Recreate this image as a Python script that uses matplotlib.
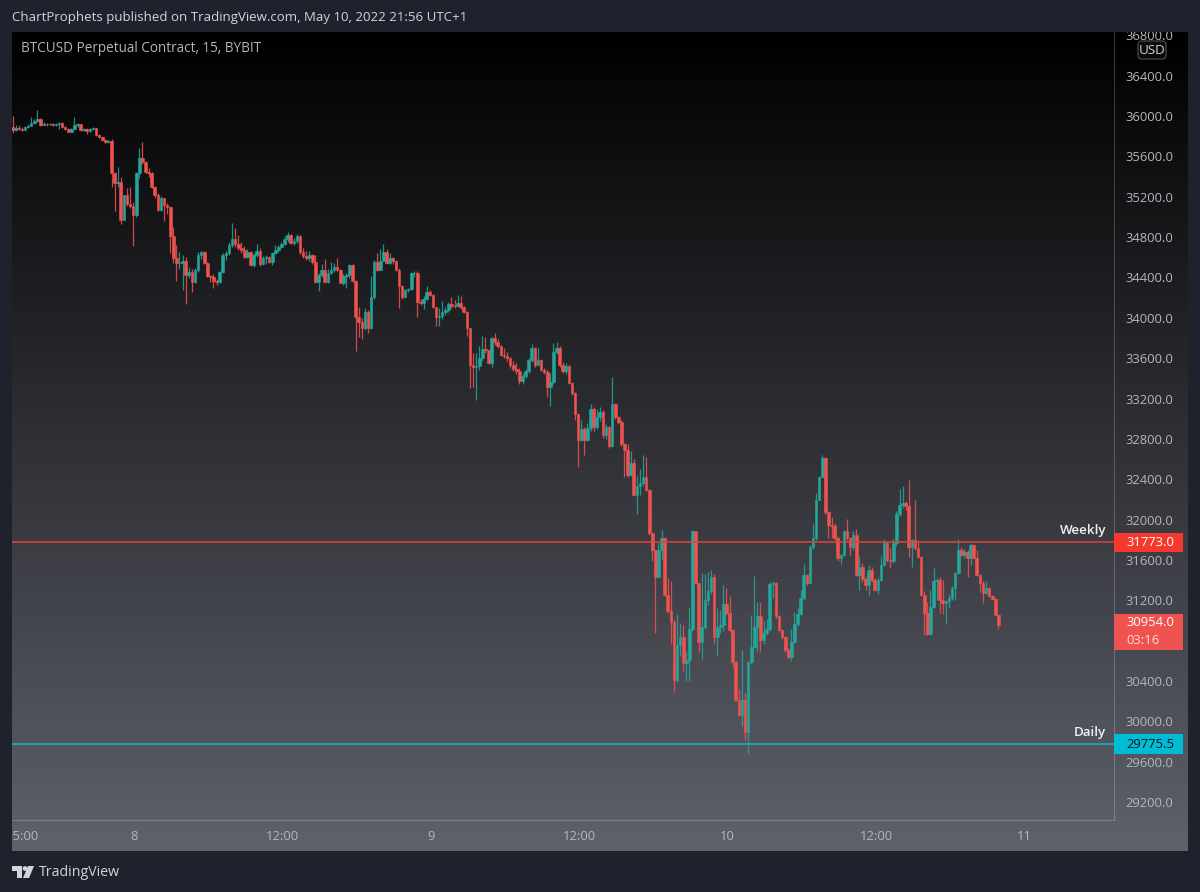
import matplotlib
matplotlib.use('Agg')
import matplotlib.pyplot as plt
import numpy as np
from matplotlib.colors import LinearSegmentedColormap
from matplotlib.patches import Rectangle, Polygon, Circle, FancyBboxPatch

plt.rcParams['font.family'] = ['Open Sans', 'DejaVu Sans']

# 15 minute candles
first_open = 35890
closes = [
    35860,35880,35875,35865,35890,35905,35935,35950,35965,35915,
    35925,35920,35925,35915,35925,35935,35895,35875,35845,35870,
    35910,35920,35860,35870,35850,35875,35880,35815,35790,35765,
    35740,35750,35430,35335,35350,34965,35215,35130,35110,35020,
    35430,35580,35540,35440,35430,35300,35218,35070,35185,35120,
    35100,34810,34590,34540,34540,34560,34425,34450,34350,34475,
    34620,34650,34540,34410,34400,34360,34350,34450,34620,34640,
    34725,34780,34730,34690,34670,34600,34650,34520,34620,34660,
    34530,34590,34600,34550,34640,34670,34700,34730,34780,34820,
    34740,34760,34810,34650,34610,34590,34620,34550,34350,34420,
    34470,34350,34440,34470,34500,34470,34345,34410,34420,34520,
    34360,34010,33960,33900,34060,33900,34210,34555,34475,34560,
    34655,34540,34590,34560,34475,34310,34210,34275,34290,34440,
    34445,34160,34150,34190,34260,34230,34105,34010,34020,34060,
    34075,34140,34120,34115,34150,34105,34060,33895,33530,33510,
    33520,33600,33690,33680,33550,33800,33760,33720,33630,33620,
    33600,33530,33490,33470,33370,33420,33470,33580,33700,33530,
    33580,33480,33465,33310,33365,33660,33700,33530,33470,33520,
    33350,33250,33050,32790,32900,32790,32910,33100,32920,33020,
    33070,32840,32920,32725,33150,33020,32970,32750,32690,32440,
    32560,32245,32330,32360,32425,32295,31865,31700,31435,31700,
    31815,31250,31090,30990,30410,30760,30840,30580,30610,30920,
    31890,31370,30790,30940,31200,31290,31430,30840,30940,30960,
    31160,31070,30905,30590,30210,30060,30210,29900,30590,30740,
    30940,31040,30810,30880,30920,31360,31370,31040,30905,30840,
    30710,30640,30790,30970,31060,31220,31450,31370,31730,31815,
    32195,32425,32610,32080,31950,31940,31815,31615,31650,31890,
    31815,31730,31845,31450,31530,31415,31350,31500,31400,31305,
    31400,31550,31770,31600,31590,31770,32060,32145,32160,32130,
    31730,31800,31720,31630,31250,31070,30870,31130,31390,31400,
    31200,31170,31190,31220,31320,31470,31700,31650,31680,31620,
    31750,31620,31450,31370,31270,31320,31240,31210,31055,30954,
]
highs = [
    36000,35910,35910,35890,35905,35920,35985,35970,36060,35975,
    35940,35935,35935,35935,35930,35940,35940,35900,35880,35880,
    35990,35930,35925,35880,35885,35885,35890,35885,35820,35795,
    35770,35765,35770,35440,35490,35400,35220,35290,35300,35150,
    35440,35680,35745,35550,35480,35445,35310,35240,35210,35190,
    35135,35110,34900,34720,34650,34620,34600,34500,34480,34490,
    34650,34660,34660,34550,34420,34430,34380,34460,34640,34660,
    34750,34935,34890,34820,34750,34710,34680,34660,34640,34730,
    34690,34610,34620,34610,34650,34720,34720,34750,34810,34850,
    34830,34790,34830,34825,34690,34660,34660,34630,34620,34440,
    34530,34580,34480,34550,34545,34590,34480,34430,34440,34530,
    34530,34370,34110,34000,34100,34080,34415,34570,34640,34680,
    34730,34680,34640,34600,34570,34490,34320,34290,34300,34450,
    34460,34460,34190,34220,34310,34275,34240,34110,34100,34170,
    34110,34160,34210,34180,34230,34220,34115,34065,33900,33650,
    33650,33720,33820,33810,33680,33810,33850,33790,33730,33700,
    33665,33610,33570,33550,33500,33450,33490,33600,33740,33710,
    33700,33590,33500,33480,33450,33750,33760,33720,33560,33555,
    33530,33360,33260,33060,32990,32920,32960,33150,33120,33100,
    33120,33090,32950,32930,33410,33160,33030,32985,32760,32750,
    32680,32600,32430,32500,32640,32620,32300,31870,31700,31770,
    31900,31830,31420,31390,31010,31060,30980,30960,30700,31120,
    31900,31830,31370,31470,31460,31480,31500,31460,31120,31100,
    31350,31320,31240,30920,30600,30320,30710,30280,30600,31050,
    31440,31180,31180,31000,31010,31380,31390,31380,31050,30920,
    30850,30730,30920,31080,31120,31300,31560,31460,31750,31960,
    32260,32430,32640,32620,32090,32030,31965,31840,31660,31900,
    32010,31830,31890,31910,31640,31570,31430,31550,31530,31420,
    31430,31640,31810,31780,31720,31810,32090,32300,32330,32180,
    32390,31810,32190,31800,31640,31290,31180,31300,31520,31420,
    31430,31400,31200,31260,31340,31480,31810,31730,31710,31700,
    31770,31760,31700,31460,31390,31390,31330,31250,31220,31060,
]
lows = [
    35830,35850,35860,35855,35860,35880,35900,35920,35940,35905,
    35915,35905,35910,35900,35905,35870,35885,35865,35840,35850,
    35870,35890,35850,35850,35825,35840,35860,35805,35785,35750,
    35735,35730,35300,35063,35300,34930,34970,35110,35090,34716,
    35000,35390,35520,35430,35400,35290,35190,35060,35060,34955,
    35030,34640,34540,34360,34480,34280,34140,34390,34260,34340,
    34450,34580,34530,34400,34350,34300,34320,34340,34440,34570,
    34620,34700,34700,34670,34640,34590,34590,34510,34500,34600,
    34510,34520,34530,34540,34520,34630,34650,34690,34720,34750,
    34730,34720,34740,34630,34590,34570,34560,34530,34340,34270,
    34400,34340,34340,34430,34450,34460,34340,34320,34300,34390,
    34350,33670,33810,33790,33880,33850,33890,34190,34460,34470,
    34560,34530,34530,34530,34460,34100,34190,34200,34255,34280,
    34400,34010,34130,34090,34180,34220,34100,33920,33920,33990,
    34030,34060,34100,34100,34110,34090,34050,33820,33300,33310,
    33190,33480,33570,33650,33540,33510,33730,33700,33620,33600,
    33570,33500,33470,33440,33340,33340,33400,33450,33560,33510,
    33540,33470,33440,33210,33130,33340,33640,33510,33450,33440,
    33340,33230,32990,32520,32780,32640,32780,32880,32880,32900,
    32980,32810,32800,32710,32720,33000,32950,32730,32420,32420,
    32430,32230,32060,32240,32330,32280,31850,31590,30880,31430,
    31600,31240,31070,30770,30290,30390,30650,30500,30400,30400,
    30900,31360,30690,30620,30920,31150,31260,30770,30650,30880,
    30900,31050,30890,30540,30200,30050,29950,29820,29680,30570,
    30730,30690,30690,30770,30860,30900,31220,31020,30890,30820,
    30690,30620,30600,30780,30950,31050,31200,31350,31360,31710,
    31800,32190,32420,32060,31820,31820,31800,31590,31560,31640,
    31800,31650,31700,31440,31300,31380,31300,31240,31380,31290,
    31260,31390,31540,31580,31520,31570,31740,32040,32110,32100,
    31630,31530,31700,31620,31240,30860,30860,30860,31120,31200,
    31070,31060,30970,31120,31200,31200,31460,31640,31620,31430,
    31550,31610,31440,31280,31170,31260,31230,31200,31050,30915,
]

price_ticks = [36800,36400,36000,35600,35200,34800,34400,34000,33600,33200,32800,
               32400,32000,31600,31200,30400,30000,29600,29200]
# candle index of each time label
time_pos = [3.3,39.3,87.4,135.4,183.4,231.4,279.4,327.4]
time_labels = ['15:00','8','12:00','9','12:00','10','12:00','11']

weekly_level = 31773.0
daily_level = 29775.5
last_price = 30954.0

UP = '#26a69a'
DOWN = '#ef5350'
DARK = '#1e222d'
W, H = 1200, 892

def px_axes(x0, y0, x1, y1, **kw):
    # axes from image pixels, y going down
    return fig.add_axes([x0/W, 1-y1/H, (x1-x0)/W, (y1-y0)/H], **kw)

fig = plt.figure(figsize=(12, 8.92), dpi=100, facecolor=DARK)

# pane gradient
bg = px_axes(12, 32, 1188, 851, zorder=0)
cmap = LinearSegmentedColormap.from_list('pane', ['#000000', '#5f616b'])
bg.imshow(np.linspace(0, 1, 256).reshape(-1, 1), aspect='auto', cmap=cmap)
bg.axis('off')

ax = px_axes(12, 32, 1114, 820, zorder=1)
ax.patch.set_alpha(0)
ax.set_xlim(-0.2, 356.4)
ax.set_ylim(29023, 36832)

# candles
closes = np.array(closes)
opens = np.r_[first_open, closes[:-1]]
idx = np.arange(len(closes))
colors = [UP if c >= o else DOWN for o, c in zip(opens, closes)]
ax.vlines(idx, lows, highs, colors=colors, lw=0.9, alpha=0.85, zorder=2)
ax.bar(idx, closes-opens, bottom=opens, width=0.85, color=colors, edgecolor=colors, lw=0.4, zorder=3)

# levels
ax.axhline(weekly_level, color='#d8483e', lw=1.1, zorder=4)
ax.axhline(daily_level, color='#1ba3b8', lw=1.4, zorder=4)
ax.text(1094/1102, weekly_level+118, 'Weekly', transform=ax.get_yaxis_transform(),
        ha='right', va='center', color='#f0f0f2', fontsize=9.6, fontweight='semibold', zorder=5)
ax.text(1094/1102, daily_level+110, 'Daily', transform=ax.get_yaxis_transform(),
        ha='right', va='center', color='#f0f0f2', fontsize=9.6, fontweight='semibold', zorder=5)

# axes
for s in ['left', 'top']:
    ax.spines[s].set_visible(False)
for s in ['right', 'bottom']:
    ax.spines[s].set_color((1, 1, 1, 0.2))
    ax.spines[s].set_linewidth(0.8)
ax.yaxis.tick_right()
ax.set_yticks(price_ticks)
ax.set_yticklabels(['%.1f' % p for p in price_ticks])
ax.set_xticks(time_pos)
ax.set_xticklabels(time_labels)
ax.tick_params(axis='y', length=0, pad=8.5, labelsize=9.4)
ax.tick_params(axis='x', length=0, pad=7, labelsize=9.4)
for lab in ax.get_yticklabels():
    lab.set_color('#b4b6bc')
for lab in ax.get_xticklabels():
    lab.set_color('#b4b6bc')

# price badges on the scale
bw = (1183-1114)/1102
def badge(price, h, color):
    ax.add_patch(Rectangle((1, price-h/2), bw, h, transform=ax.get_yaxis_transform(),
                           fc=color, ec='none', clip_on=False, zorder=6))
tx = 1 + 12/1102
badge(weekly_level, 198, '#f5392e')
ax.text(tx, weekly_level, '%.1f' % weekly_level, transform=ax.get_yaxis_transform(), color='white',
        fontsize=9.4, va='center', ha='left', zorder=7)
badge(last_price-70, 357, '#ef5350')
ax.text(tx, last_price+30, '%.1f' % last_price, transform=ax.get_yaxis_transform(), color='white',
        fontsize=9.4, va='center', ha='left', zorder=7)
ax.text(tx, last_price-157, '03:16', transform=ax.get_yaxis_transform(), color='#fbdcdb',
        fontsize=9.4, va='center', ha='left', zorder=7)
badge(daily_level, 198, '#00bcd4')
ax.text(tx, daily_level, '%.1f' % daily_level, transform=ax.get_yaxis_transform(), color='#10131c',
        fontsize=9.4, va='center', ha='left', zorder=7)

# chrome drawn in image pixels on top
top = fig.add_axes([0, 0, 1, 1], zorder=2)
top.set_xlim(0, W)
top.set_ylim(H, 0)
top.axis('off')
top.patch.set_alpha(0)
top.add_patch(Rectangle((0, 0), W, 32, fc=DARK, ec='none'))
top.add_patch(Rectangle((0, 0), 12, H, fc=DARK, ec='none'))
top.add_patch(FancyBboxPatch((1138, 41), 28, 18, boxstyle='round,pad=0,rounding_size=4',
                             fc='#0a0a0b', ec='#4a4b4f', lw=0.9))
top.text(1152, 50, 'USD', color='#d2d3d6', fontsize=9.6, ha='center', va='center')
top.text(12, 17.5, 'ChartProphets published on TradingView.com, May 10, 2022 21:56 UTC+1',
         color='#d1d4dc', fontsize=9.57, ha='left', va='center')
top.text(21, 48.5, 'BTCUSD Perpetual Contract, 15, BYBIT', color='#b2b5be', fontsize=9.72,
         ha='left', va='center')
top.text(39, 872, 'TradingView', color='#d1d4dc', fontsize=10.2, ha='left', va='center')
# logo
top.add_patch(Polygon([(12, 866), (22, 866), (22, 878), (17, 878), (17, 871), (12, 871)], fc='#d1d4dc', ec='none'))
top.add_patch(Circle((25, 868.5), 2.4, fc='#d1d4dc', ec='none'))
top.add_patch(Polygon([(28, 866), (34, 866), (29, 878), (23, 878)], fc='#d1d4dc', ec='none'))

fig.savefig('out.png', dpi=100, facecolor=fig.get_facecolor())
